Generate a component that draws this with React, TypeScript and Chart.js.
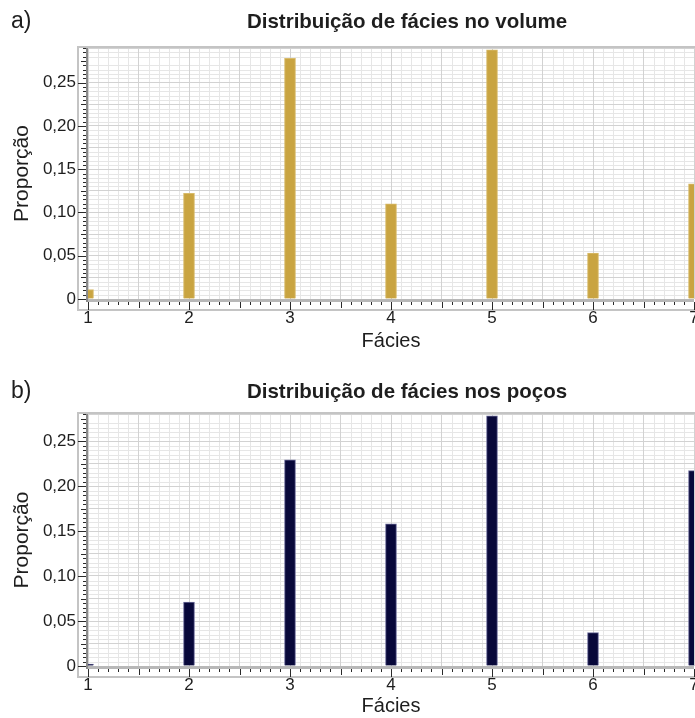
import React, { useEffect, useRef } from 'react';
import { Chart, registerables } from 'chart.js';

Chart.register(...registerables);

// ---- data ----
const facies = [1, 2, 3, 4, 5, 6, 7];
const volumeProportion = [0.011, 0.122, 0.278, 0.11, 0.288, 0.053, 0.133];
const wellsProportion = [0.002, 0.071, 0.229, 0.158, 0.278, 0.037, 0.217];
const panelLabels = ['a)', 'b)'];
const panelTitles = ['Distribuição de fácies no volume', 'Distribuição de fácies nos poços'];
const xAxisTitle = 'Fácies';
const yAxisTitle = 'Proporção';

const FONT = '"Liberation Sans", Arial, Helvetica, sans-serif';
const TEXT = '#1e1e1e';

const fmtY = (v: number) => {
  const k = v / 0.05;
  if (Math.abs(k - Math.round(k)) > 1e-6) return '';
  if (Math.abs(v) < 1e-9) return '0';
  return v.toFixed(2).replace('.', ',');
};

const decor = {
  id: 'decor',
  beforeDraw(chart: any, _args: any, opts: any) {
    const { ctx, chartArea: a, scales } = chart;
    const x = scales.x, y = scales.y;
    ctx.save();
    ctx.fillStyle = '#ffffff';
    ctx.fillRect(0, 0, chart.width, chart.height);
    ctx.strokeStyle = '#e6e6e6';
    ctx.lineWidth = 1;
    ctx.beginPath();
    for (let i = 0; i <= 60; i++) {
      if (i % 5 === 0) continue;
      const px = Math.round(x.getPixelForValue(1 + i * 0.1)) + 0.5;
      ctx.moveTo(px, a.top);
      ctx.lineTo(px, a.bottom);
    }
    const nY = Math.floor(y.max / 0.005 + 1e-6);
    for (let j = 0; j <= nY; j++) {
      if (j % 5 === 0) continue;
      const py = Math.round(y.getPixelForValue(j * 0.005)) + 0.5;
      ctx.moveTo(a.left, py);
      ctx.lineTo(a.right, py);
    }
    ctx.stroke();
    ctx.restore();
  },
  afterDraw(chart: any, _args: any, opts: any) {
    const { ctx, chartArea: a, scales } = chart;
    const x = scales.x, y = scales.y;
    ctx.save();
    const frameL = a.left - 10;
    const frameB = a.bottom + 11;
    // frame
    ctx.strokeStyle = '#c4c4c4';
    ctx.lineWidth = 2;
    ctx.strokeRect(frameL, a.top - 1, chart.width + 10 - frameL, frameB - (a.top - 1));
    // x axis band
    ctx.fillStyle = '#b8b8b8';
    ctx.fillRect(a.left - 2, a.bottom, a.right - a.left + 2, 3);
    // y axis line
    ctx.fillStyle = '#8a8a8a';
    ctx.fillRect(a.left - 2, a.top, 2, a.bottom - a.top + 3);
    // x ticks
    ctx.strokeStyle = '#2a2a2a';
    ctx.lineWidth = 1;
    ctx.beginPath();
    for (let i = 0; i <= 60; i++) {
      const px = Math.round(x.getPixelForValue(1 + i * 0.1)) + 0.5;
      const len = i % 10 === 0 ? 8 : i % 5 === 0 ? 6 : 3;
      ctx.moveTo(px, a.bottom + 3);
      ctx.lineTo(px, a.bottom + 3 + len);
    }
    // y ticks
    const nY = Math.floor(y.max / 0.005 + 1e-6);
    for (let j = 0; j <= nY; j++) {
      const py = Math.round(y.getPixelForValue(j * 0.005)) + 0.5;
      const len = j % 10 === 0 ? 8 : j % 5 === 0 ? 5 : 3;
      ctx.moveTo(a.left - 2, py);
      ctx.lineTo(a.left - 2 - len, py);
    }
    ctx.stroke();
    // panel label & title
    ctx.fillStyle = TEXT;
    ctx.textBaseline = 'middle';
    ctx.textAlign = 'left';
    ctx.font = `23px ${FONT}`;
    ctx.fillText(opts.label, 11, opts.titleY);
    ctx.textAlign = 'center';
    ctx.font = `bold 20.5px ${FONT}`;
    ctx.fillText(opts.title, 407, opts.titleY);
    ctx.restore();
  },
};

type PanelProps = {
  label: string;
  title: string;
  values: number[];
  color: string;
  border: string;
  yMax: number;
  height: number;
  padTop: number;
  xAxisHeight: number;
  titleY: number;
  xTitlePad: number;
};

const noPad = (s: any) => {
  s.paddingLeft = 0;
  s.paddingRight = 0;
  s.paddingTop = 0;
  s.paddingBottom = 0;
};

function Panel(p: PanelProps) {
  const ref = useRef<HTMLCanvasElement | null>(null);
  useEffect(() => {
    if (!ref.current) return;
    const chart = new Chart(ref.current, {
      type: 'bar',
      data: {
        datasets: [
          {
            data: facies.map((f, i) => ({ x: f, y: p.values[i] })),
            backgroundColor: p.color,
            borderColor: p.border,
            borderWidth: 1,
            barThickness: 11,
          },
        ],
      },
      options: {
        responsive: false,
        animation: false,
        layout: { padding: { top: p.padTop, right: 1, left: 0, bottom: 0 } },
        plugins: {
          legend: { display: false },
          tooltip: { enabled: false },
          decor: { label: p.label, title: p.title, titleY: p.titleY },
        } as any,
        scales: {
          x: {
            type: 'linear',
            min: 1,
            max: 7,
            offset: false,
            afterFit: (s: any) => {
              s.height = p.xAxisHeight;
              noPad(s);
            },
            grid: { color: '#d2d2d2', drawTicks: false, offset: false },
            border: { display: false },
            ticks: {
              stepSize: 0.5,
              autoSkip: false,
              maxRotation: 0,
              padding: 9,
              color: TEXT,
              font: { family: FONT, size: 17 },
              callback: (v: any) => (Math.abs(v - Math.round(v)) < 1e-6 ? String(Math.round(v)) : ''),
            },
            title: {
              display: true,
              text: xAxisTitle,
              color: TEXT,
              font: { family: FONT, size: 20 },
              padding: { top: 0, bottom: p.xTitlePad },
            },
          },
          y: {
            type: 'linear',
            min: 0,
            max: p.yMax,
            afterFit: (s: any) => {
              s.width = 88;
              noPad(s);
            },
            grid: { color: '#d2d2d2', drawTicks: false },
            border: { display: false },
            ticks: {
              stepSize: 0.025,
              autoSkip: false,
              padding: 12,
              color: TEXT,
              font: { family: FONT, size: 17 },
              callback: (v: any) => fmtY(Number(v)),
            },
            title: {
              display: true,
              text: yAxisTitle,
              color: TEXT,
              font: { family: FONT, size: 21 },
              padding: { top: 10, bottom: 0 },
            },
          },
        } as any,
      },
      plugins: [decor as any],
    });
    return () => chart.destroy();
  }, []);
  return <canvas ref={ref} width={695} height={p.height} style={{ display: 'block' }} />;
}

export default function App() {
  return (
    <div style={{ position: 'absolute', left: 0, top: 0, width: 695, height: 718, background: '#fff' }}>
      <Panel
        label={panelLabels[0]}
        title={panelTitles[0]}
        values={volumeProportion}
        color="#c9a441"
        border="#d8bb6a"
        yMax={0.29}
        height={359}
        padTop={48}
        xAxisHeight={60}
        titleY={22}
        xTitlePad={6}
      />
      <Panel
        label={panelLabels[1]}
        title={panelTitles[1]}
        values={wellsProportion}
        color="#08083a"
        border="#6c6c9a"
        yMax={0.28}
        height={359}
        padTop={55}
        xAxisHeight={52}
        titleY={33}
        xTitlePad={0}
      />
    </div>
  );
}
